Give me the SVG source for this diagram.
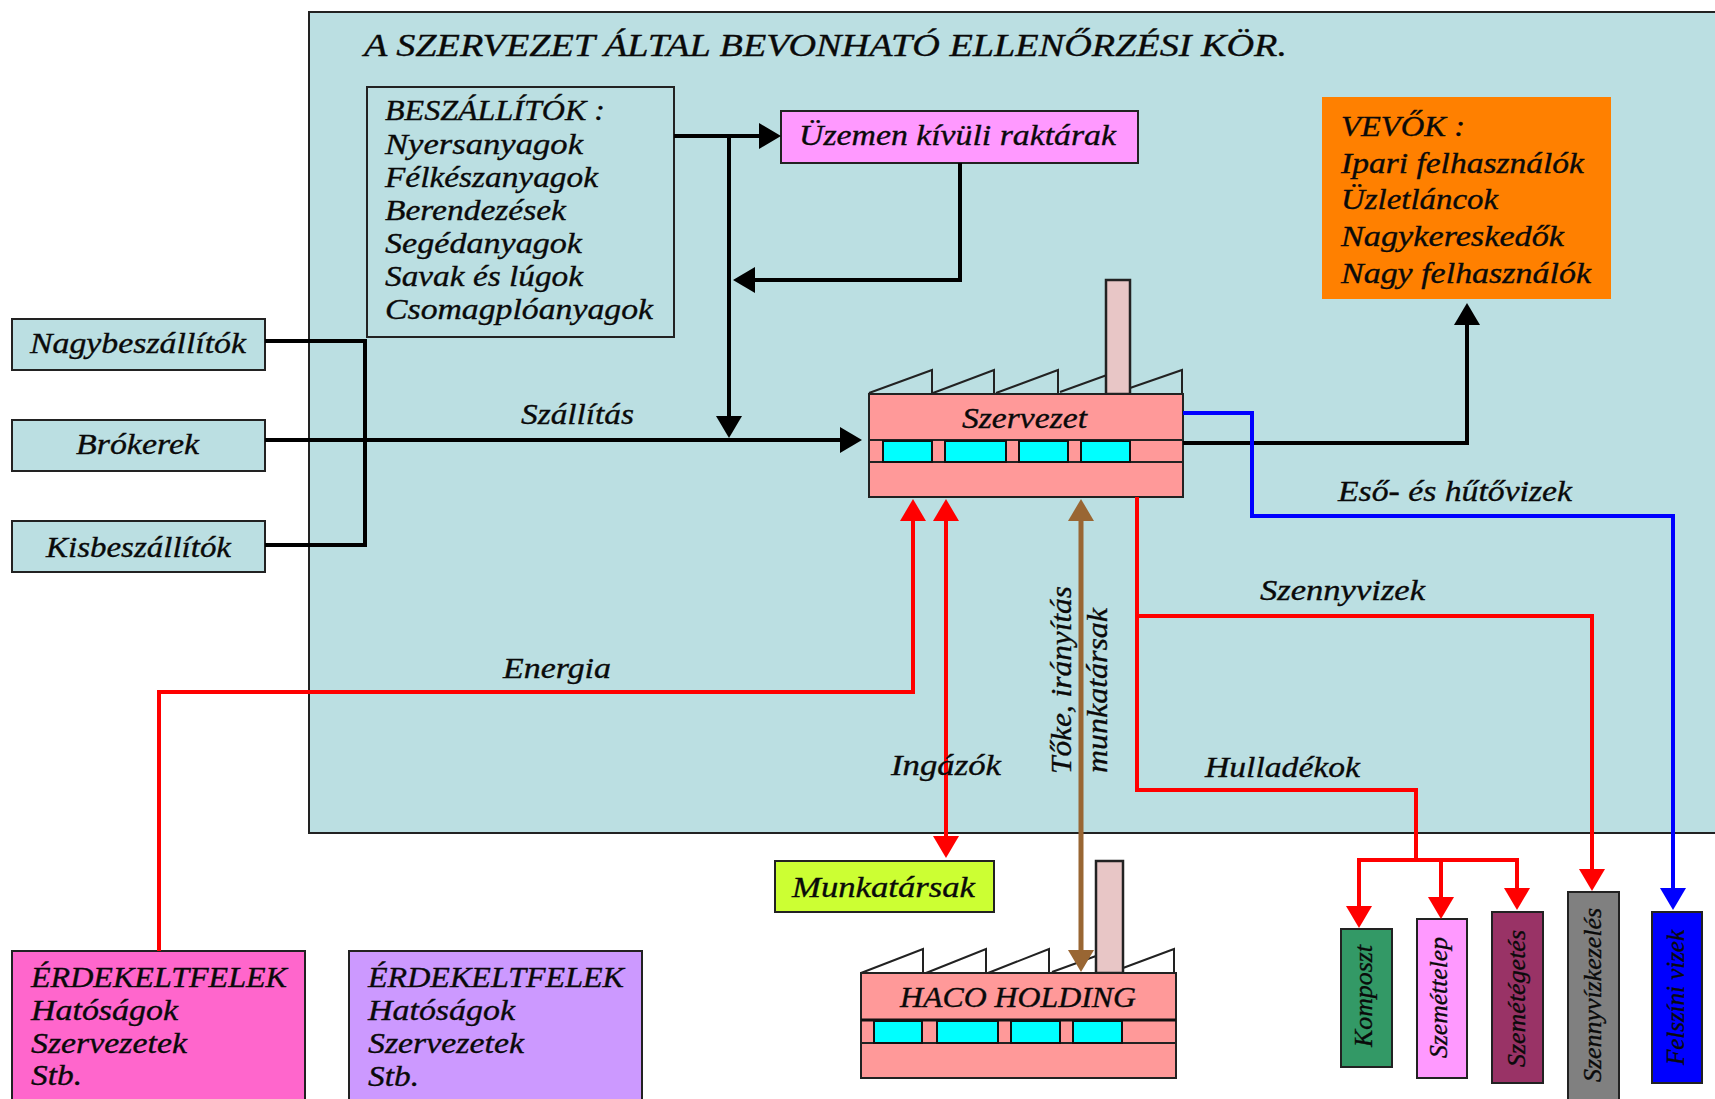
<svg xmlns="http://www.w3.org/2000/svg" width="1715" height="1099" viewBox="0 0 1715 1099">
<style>
text{font-family:"Liberation Serif","Times New Roman",serif;font-style:italic;font-size:30px;fill:#0a0a0a;stroke:#0a0a0a;stroke-width:.35}
.v{font-size:26px}
.b{stroke:#222;stroke-width:2}
.f{fill:#FF9999;stroke:#222;stroke-width:2}
.w{fill:#00FFFF;stroke:#111;stroke-width:2}
.t{fill:none;stroke:#222;stroke-width:2}
.c{fill:#E8C6C6;stroke:#222;stroke-width:2.5}
.l{fill:none;stroke-width:4;stroke-linejoin:miter}
.k{stroke:#000}.r{stroke:#FF0000}.u{stroke:#0000FF}.n{stroke:#996633;stroke-width:5}
</style>
<defs>
<marker id="ak" markerUnits="userSpaceOnUse" markerWidth="24" markerHeight="26" refX="6" refY="13" orient="auto-start-reverse"><path d="M0 0L22 13L0 26Z" fill="#000"/></marker>
<marker id="ar" markerUnits="userSpaceOnUse" markerWidth="24" markerHeight="26" refX="6" refY="13" orient="auto-start-reverse"><path d="M0 0L22 13L0 26Z" fill="#FF0000"/></marker>
<marker id="au" markerUnits="userSpaceOnUse" markerWidth="24" markerHeight="26" refX="6" refY="13" orient="auto-start-reverse"><path d="M0 0L22 13L0 26Z" fill="#0000FF"/></marker>
<marker id="an" markerUnits="userSpaceOnUse" markerWidth="24" markerHeight="26" refX="6" refY="13" orient="auto-start-reverse"><path d="M0 0L22 13L0 26Z" fill="#996633"/></marker>
</defs>
<rect width="1715" height="1099" fill="#fff"/>
<g id="panel">
<rect class="b" x="309" y="12" width="1410" height="821" fill="#BBDFE2"/>
<text x="364" y="56" textLength="923" lengthAdjust="spacingAndGlyphs" style="font-size:32px">A SZERVEZET ÁLTAL BEVONHATÓ ELLENŐRZÉSI KÖR.</text>
</g>
<g id="beszallitok">
<rect class="b" x="367" y="87" width="307" height="250" fill="#BBDFE2"/>
<text x="385" y="120" textLength="220" lengthAdjust="spacingAndGlyphs">BESZÁLLÍTÓK :</text>
<text x="385" y="154" textLength="198" lengthAdjust="spacingAndGlyphs">Nyersanyagok</text>
<text x="385" y="187" textLength="213" lengthAdjust="spacingAndGlyphs">Félkészanyagok</text>
<text x="385" y="220" textLength="181" lengthAdjust="spacingAndGlyphs">Berendezések</text>
<text x="385" y="253" textLength="197" lengthAdjust="spacingAndGlyphs">Segédanyagok</text>
<text x="385" y="286" textLength="198" lengthAdjust="spacingAndGlyphs">Savak és lúgok</text>
<text x="385" y="319" textLength="268" lengthAdjust="spacingAndGlyphs">Csomagplóanyagok</text>
</g>
<g id="uzemen">
<rect class="b" x="781" y="111" width="357" height="52" fill="#FF99FF"/>
<text x="799" y="145" textLength="317" lengthAdjust="spacingAndGlyphs">Üzemen kívüli raktárak</text>
</g>
<g id="vevok">
<rect x="1322" y="97" width="289" height="202" fill="#FF8000"/>
<text x="1341" y="136" textLength="124" lengthAdjust="spacingAndGlyphs">VEVŐK :</text>
<text x="1341" y="173" textLength="243" lengthAdjust="spacingAndGlyphs">Ipari felhasználók</text>
<text x="1341" y="209" textLength="157" lengthAdjust="spacingAndGlyphs">Üzletláncok</text>
<text x="1341" y="246" textLength="223" lengthAdjust="spacingAndGlyphs">Nagykereskedők</text>
<text x="1341" y="283" textLength="250" lengthAdjust="spacingAndGlyphs">Nagy felhasználók</text>
</g>
<g id="nagybeszallitok">
<rect class="b" x="12" y="319" width="253" height="51" fill="#BBDFE2"/>
<text x="30" y="353" textLength="216" lengthAdjust="spacingAndGlyphs">Nagybeszállítók</text>
</g>
<g id="brokerek">
<rect class="b" x="12" y="420" width="253" height="51" fill="#BBDFE2"/>
<text x="76" y="454" textLength="123" lengthAdjust="spacingAndGlyphs">Brókerek</text>
</g>
<g id="kisbeszallitok">
<rect class="b" x="12" y="521" width="253" height="51" fill="#BBDFE2"/>
<text x="46" y="557" textLength="185" lengthAdjust="spacingAndGlyphs">Kisbeszállítók</text>
</g>
<g id="szervezet">
<path class="t" d="M869 393L932 370V393M933 393L994 370V393M996 393L1058 370V393M1060 392L1107 375M1130 388L1182 370V393"/>
<rect class="c" x="1106" y="280" width="24" height="114"/>
<rect class="f" x="869" y="394" width="314" height="103"/>
<line class="b" x1="869" y1="440" x2="1183" y2="440"/>
<line class="b" x1="869" y1="462" x2="1183" y2="462"/>
<rect class="w" x="883" y="441" width="49" height="21"/>
<rect class="w" x="945" y="441" width="61" height="21"/>
<rect class="w" x="1019" y="441" width="49" height="21"/>
<rect class="w" x="1081" y="441" width="49" height="21"/>
<text x="962" y="428" textLength="125" lengthAdjust="spacingAndGlyphs">Szervezet</text>
</g>
<g id="haco">
<path class="t" d="M861 973L923 949V973M926 973L986 949V973M988 973L1049 949V973M1052 972L1096 956M1123 968L1174 949V973"/>
<rect class="c" x="1096" y="861" width="27" height="112"/>
<rect class="f" x="861" y="973" width="315" height="105"/>
<line x1="861" y1="1020" x2="1176" y2="1020" stroke="#111" stroke-width="3"/>
<line class="b" x1="861" y1="1043" x2="1176" y2="1043"/>
<rect class="w" x="874" y="1021" width="48" height="22"/>
<rect class="w" x="937" y="1021" width="61" height="22"/>
<rect class="w" x="1011" y="1021" width="49" height="22"/>
<rect class="w" x="1073" y="1021" width="49" height="22"/>
<text x="900" y="1007" textLength="236" lengthAdjust="spacingAndGlyphs">HACO HOLDING</text>
</g>
<g id="munkatarsak">
<rect class="b" x="775" y="861" width="219" height="51" fill="#CCFF33"/>
<text x="792" y="897" textLength="183" lengthAdjust="spacingAndGlyphs">Munkatársak</text>
</g>
<g id="erdekelt1">
<rect class="b" x="12" y="951" width="293" height="170" fill="#FF66CC"/>
<text x="31" y="987" textLength="256" lengthAdjust="spacingAndGlyphs">ÉRDEKELTFELEK</text>
<text x="31" y="1020" textLength="147" lengthAdjust="spacingAndGlyphs">Hatóságok</text>
<text x="31" y="1053" textLength="156" lengthAdjust="spacingAndGlyphs">Szervezetek</text>
<text x="31" y="1085" textLength="51" lengthAdjust="spacingAndGlyphs">Stb.</text>
</g>
<g id="erdekelt2">
<rect class="b" x="349" y="951" width="293" height="170" fill="#CC99FF"/>
<text x="368" y="987" textLength="256" lengthAdjust="spacingAndGlyphs">ÉRDEKELTFELEK</text>
<text x="368" y="1020" textLength="147" lengthAdjust="spacingAndGlyphs">Hatóságok</text>
<text x="368" y="1053" textLength="156" lengthAdjust="spacingAndGlyphs">Szervezetek</text>
<text x="368" y="1086" textLength="51" lengthAdjust="spacingAndGlyphs">Stb.</text>
</g>
<g id="komposzt">
<rect class="b" x="1341" y="929" width="51" height="138" fill="#339966"/>
<text class="v" transform="translate(1372 1047) rotate(-90)" textLength="102" lengthAdjust="spacingAndGlyphs">Komposzt</text>
</g>
<g id="szemettelep">
<rect class="b" x="1417" y="919" width="50" height="159" fill="#FF99FF"/>
<text class="v" transform="translate(1447 1058) rotate(-90)" textLength="121" lengthAdjust="spacingAndGlyphs">Szeméttelep</text>
</g>
<g id="szemetegetes">
<rect class="b" x="1492" y="912" width="51" height="171" fill="#993366"/>
<text class="v" transform="translate(1525 1067) rotate(-90)" textLength="137" lengthAdjust="spacingAndGlyphs">Szemétégetés</text>
</g>
<g id="szennyvizkezeles">
<rect class="b" x="1568" y="892" width="51" height="220" fill="#808080"/>
<text class="v" transform="translate(1601 1082) rotate(-90)" textLength="174" lengthAdjust="spacingAndGlyphs">Szennyvízkezelés</text>
</g>
<g id="felszini">
<rect class="b" x="1652" y="912" width="50" height="171" fill="#0000FF"/>
<text class="v" transform="translate(1684 1065) rotate(-90)" textLength="135" lengthAdjust="spacingAndGlyphs">Felszíni vizek</text>
</g>
<g id="connectors">
<path class="l k" d="M265 341H365V545H265"/>
<path class="l k" d="M265 440H846" marker-end="url(#ak)"/>
<path class="l k" d="M674 136H765" marker-end="url(#ak)"/>
<path class="l k" d="M729 136V422" marker-end="url(#ak)"/>
<path class="l k" d="M960 163V280H749" marker-end="url(#ak)"/>
<path class="l k" d="M1183 443H1467V319" marker-end="url(#ak)"/>
<path class="l u" d="M1183 413H1252V516H1673V894" marker-end="url(#au)"/>
<path class="l r" d="M159 951V692H913V515" marker-end="url(#ar)"/>
<path class="l r" d="M946 515V842" marker-start="url(#ar)" marker-end="url(#ar)"/>
<path class="l n" d="M1081 515V956" marker-start="url(#an)" marker-end="url(#an)"/>
<path class="l r" d="M1137 497V790H1416V860"/>
<path class="l r" d="M1137 616H1592V875" marker-end="url(#ar)"/>
<path class="l r" d="M1517 860H1359V912" marker-end="url(#ar)"/>
<path class="l r" d="M1517 858V894" marker-end="url(#ar)"/>
<path class="l r" d="M1441 860V903" marker-end="url(#ar)"/>
</g>
<g id="labels">
<text x="521" y="424" textLength="113" lengthAdjust="spacingAndGlyphs">Szállítás</text>
<text x="1338" y="501" textLength="234" lengthAdjust="spacingAndGlyphs">Eső- és hűtővizek</text>
<text x="1260" y="600" textLength="165" lengthAdjust="spacingAndGlyphs">Szennyvizek</text>
<text x="503" y="678" textLength="108" lengthAdjust="spacingAndGlyphs">Energia</text>
<text x="891" y="775" textLength="110" lengthAdjust="spacingAndGlyphs">Ingázók</text>
<text x="1205" y="777" textLength="155" lengthAdjust="spacingAndGlyphs">Hulladékok</text>
<text transform="translate(1071 774) rotate(-90)" textLength="188" lengthAdjust="spacingAndGlyphs">Tőke, irányítás</text>
<text transform="translate(1107 773) rotate(-90)" textLength="165" lengthAdjust="spacingAndGlyphs">munkatársak</text>
</g>
</svg>
